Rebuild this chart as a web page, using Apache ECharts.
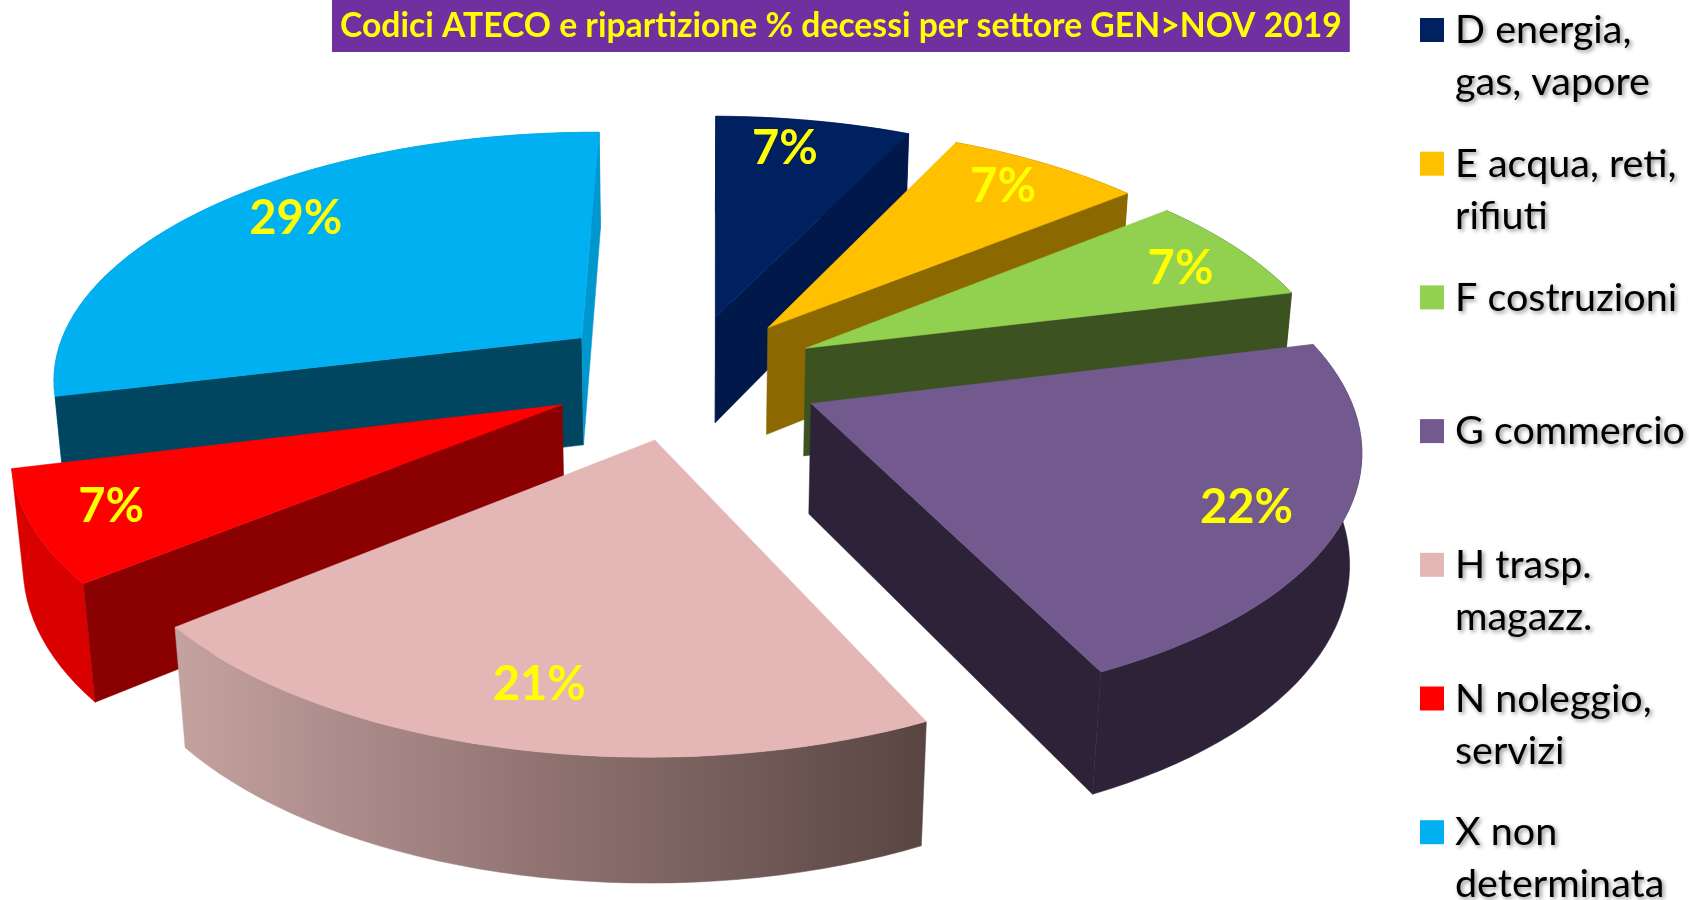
<!DOCTYPE html>
<html><head><meta charset="utf-8">
<style>html,body{margin:0;padding:0;background:#fff}#c{width:1689px;height:900px}</style>
<script src="https://cdn.jsdelivr.net/npm/echarts@6/dist/echarts.min.js"></script>
</head><body><div id="c"></div>
<script>
const titleText = 'Codici ATECO e ripartizione % decessi per settore GEN>NOV 2019';
const categories = ['D energia,\ngas, vapore','E acqua, reti,\nrifiuti','F costruzioni','G commercio','H trasp.\nmagazz.','N noleggio,\nservizi','X non\ndeterminata'];
const shares = [7,7,7,21.8,21.2,7,29];
const topColors = ['#002060','#FFC000','#92D050','#725A8E','#E4B6B6','#FF0000','#00B0F0'];
const startWallColors = ['#00184A','#8C6900','#3C5220','#2D2238','#8A6E6C','#8B0000','#004660'];
const endWallColors = ['#00184A','#8C6900','#3C5220','#2D2238','#8A6E6C','#8B0000','#0097CF'];
const arcColors = ['#00184A','#8C6900','#3C5220','#2D2238',null,'#D90000','#0097CF'];
const labelNudgeX = [-14,0,13,-1,5,-17,21];
const labelNudgeY = [-2,-3,4,8,-3,2,-6];

// projection of the tilted, exploded pie
const CX=686, CY=376, R=532, EXPLODE=136, DEPTH=125, LABEL_R=0.83, START=0.5*Math.PI/180;
const P=0.000285, K=0.465, Q=0.000141, M=0.8874;
function proj(u,v,h){const w=1-P*v+Q*h;return [CX+u/w, CY+(K*v+M*h)/w];}
const total=shares.reduce((a,b)=>a+b,0);
let acc=0;
const slices=shares.map((val,i)=>{const a0=START+acc/total*2*Math.PI;acc+=val;const a1=START+acc/total*2*Math.PI;return {i,val,a0,a1,mid:(a0+a1)/2};});
const order=slices.slice().sort((a,b)=>Math.cos(b.mid)-Math.cos(a.mid)).map(s=>s.i);
function pt(s,a,r,h){
  const u=EXPLODE*Math.sin(s.mid)+r*Math.sin(a), v=-EXPLODE*Math.cos(s.mid)-r*Math.cos(a);
  return proj(u,v,h);
}
function area(p){let t=0;for(let i=0;i<p.length;i++){const q=p[(i+1)%p.length];t+=p[i][0]*q[1]-q[0]*p[i][1];}return t;}
function poly(points,fill){return {type:'polygon',shape:{points},style:{fill,stroke:fill,lineWidth:0.5}};}
function renderSlice(params,api){
  const s=slices[api.value(1)], i=s.i, n=Math.ceil((s.a1-s.a0)/(Math.PI/90));
  const topArc=[],botArc=[];
  for(let k=0;k<=n;k++){const a=s.a0+(s.a1-s.a0)*k/n;topArc.push(pt(s,a,R,0));botArc.push(pt(s,a,R,DEPTH));}
  const apexT=pt(s,0,0,0),apexB=pt(s,0,0,DEPTH);
  const children=[];
  const arcFill=arcColors[i]||new echarts.graphic.LinearGradient(0,0,1,0,[{offset:0,color:'#C4A2A0'},{offset:0.5,color:'#8F7270'},{offset:1,color:'#584542'}]);
  children.push(poly(topArc.concat(botArc.slice().reverse()),arcFill));
  const w0=[apexT,topArc[0],botArc[0],apexB];
  if(area(w0)<0)children.push(poly(w0,startWallColors[i]));
  const w1=[apexT,topArc[n],botArc[n],apexB];
  if(area(w1)>0)children.push(poly(w1,endWallColors[i]));
  children.push(poly([apexT].concat(topArc),topColors[i]));
  const lp=pt(s,s.mid,R*LABEL_R,0);
  children.push({type:'text',style:{text:Math.round(api.value(0))+'%',x:lp[0]+labelNudgeX[i],y:lp[1]+labelNudgeY[i],align:'center',verticalAlign:'middle',
    fill:'#FFFF00',font:'bold 47px Lato, "Noto Sans", sans-serif'},z2:10});
  return {type:'group',children};
}
const legendGraphics=[];
categories.forEach((name,i)=>{
  const y=18+i*133.7;
  legendGraphics.push({type:'rect',left:1420,top:y,shape:{width:24,height:24},style:{fill:topColors[i]}});
  legendGraphics.push({type:'text',left:1455,top:y-13.5,style:{text:name,fill:'#000',font:'39.5px Lato, "Noto Sans", sans-serif',lineHeight:52,
    textShadowColor:'rgba(0,0,0,0.45)',textShadowBlur:4,textShadowOffsetX:2,textShadowOffsetY:2}});
});
const chart=echarts.init(document.getElementById('c'),null,{renderer:'canvas'});
chart.setOption({
  animation:false,
  backgroundColor:'#fff',
  title:{text:titleText,left:332,top:0,padding:[9,8,9,8],backgroundColor:'#7030A0',
    textStyle:{color:'#FFFF00',fontFamily:'Lato',fontWeight:'bold',fontSize:33.7}},
  graphic:legendGraphics,
  series:[{type:'custom',coordinateSystem:'none',silent:true,renderItem:renderSlice,
    data:order.map(i=>({value:[shares[i],i],name:categories[i]}))}]
});
</script></body></html>
